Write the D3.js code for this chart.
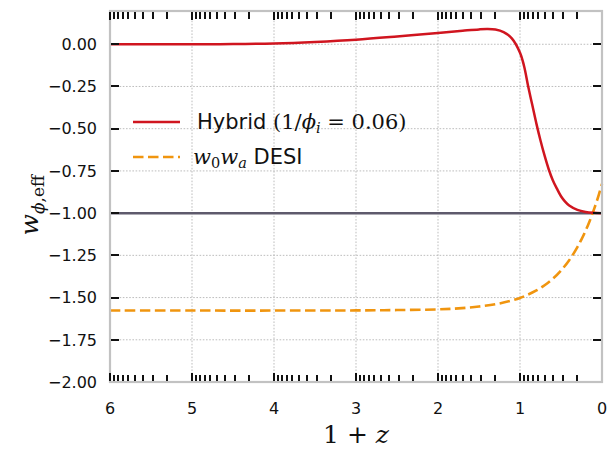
<!DOCTYPE html>
<html>
<head>
<meta charset="utf-8">
<script src="https://cdn.jsdelivr.net/npm/d3@7"></script>
<style>
  body { margin: 0; background: #fff; }
  text { font-family: "DejaVu Sans", sans-serif; }
  .math { font-family: "DejaVu Serif", serif; }
</style>
</head>
<body>
<div id="chart"></div>
<script>
// log10(1+z) sample positions and the curves
const hybridLogX = [6, 5, 4.5, 4, 3.5, 3, 2.5, 2, 1.7, 1.5, 1.4, 1.3, 1.2, 1.1, 1.0, 0.95, 0.9, 0.85, 0.8, 0.75, 0.7, 0.65, 0.6, 0.55, 0.5, 0.45, 0.4, 0.3, 0.2, 0.1, 0];
const hybridW = [0.0, 0.0, 0.001, 0.005, 0.014, 0.027, 0.046, 0.067, 0.08, 0.088, 0.09, 0.087, 0.072, 0.035, -0.05, -0.13, -0.25, -0.36, -0.47, -0.57, -0.66, -0.74, -0.805, -0.855, -0.9, -0.932, -0.955, -0.981, -0.993, -0.998, -1.0];

const desiLogX = [6, 5, 4, 3, 2.5, 2, 1.75, 1.5, 1.25, 1, 0.9, 0.8, 0.7, 0.6, 0.5, 0.4, 0.3, 0.25, 0.2, 0.15, 0.1, 0.05, 0];
const desiW = [-1.577, -1.577, -1.577, -1.576, -1.574, -1.570, -1.564, -1.553, -1.535, -1.502, -1.482, -1.458, -1.427, -1.389, -1.340, -1.279, -1.201, -1.155, -1.104, -1.046, -0.981, -0.909, -0.827];

const xTickExps = [6, 5, 4, 3, 2, 1, 0];
const yTicks = [0, -0.25, -0.5, -0.75, -1, -1.25, -1.5, -1.75, -2];
const refLine = -1;

const width = 609, height = 449;
const margin = { top: 11, right: 7, bottom: 67, left: 110 };
const iw = width - margin.left - margin.right;
const ih = height - margin.top - margin.bottom;

const svg = d3.select("#chart").append("svg")
  .attr("width", width).attr("height", height);
const g = svg.append("g").attr("transform", `translate(${margin.left},${margin.top})`);

const x = d3.scaleLog().domain([1e6, 1]).range([0, iw]);
const y = d3.scaleLinear().domain([-2, 0.197]).range([ih, 0]);

// grid
const grid = g.append("g");
xTickExps.slice(1, -1).forEach(k => {
  grid.append("line").attr("x1", x(10 ** k)).attr("x2", x(10 ** k))
    .attr("y1", 0).attr("y2", ih)
    .attr("stroke", "#b5b5b5").attr("stroke-width", 0.9).attr("stroke-dasharray", "1.6,1.6");
});
yTicks.slice(0, -1).forEach(v => {
  grid.append("line").attr("x1", 0).attr("x2", iw)
    .attr("y1", y(v)).attr("y2", y(v))
    .attr("stroke", "#b5b5b5").attr("stroke-width", 0.9).attr("stroke-dasharray", "1.6,1.6");
});

// reference w = -1
g.append("line").attr("x1", 0).attr("x2", iw)
  .attr("y1", y(refLine)).attr("y2", y(refLine))
  .attr("stroke", "#5e5a6c").attr("stroke-width", 2.5);

const line = d3.line()
  .x(d => x(10 ** d[0]))
  .y(d => y(d[1]))
  .curve(d3.curveCatmullRom.alpha(0.5));

g.append("path")
  .datum(desiLogX.map((u, i) => [u, desiW[i]]))
  .attr("d", line)
  .attr("fill", "none").attr("stroke", "#f0950f").attr("stroke-width", 2.6)
  .attr("stroke-dasharray", "10.5,4.5");

g.append("path")
  .datum(hybridLogX.map((u, i) => [u, hybridW[i]]))
  .attr("d", line)
  .attr("fill", "none").attr("stroke", "#d0151f").attr("stroke-width", 2.5);

// frame
g.append("rect").attr("x", 0).attr("y", 0).attr("width", iw).attr("height", ih)
  .attr("fill", "none").attr("stroke", "#c2c2c2").attr("stroke-width", 2.2);

// x ticks (log decades, inward, top and bottom)
const ticks = g.append("g").attr("stroke", "#111").attr("shape-rendering", "crispEdges");
const vtick = (px, len, w) => {
  const cx = Math.round(px);
  ticks.append("line").attr("x1", cx).attr("x2", cx).attr("y1", ih - 1).attr("y2", ih - len).attr("stroke-width", w);
  ticks.append("line").attr("x1", cx).attr("x2", cx).attr("y1", 1).attr("y2", len).attr("stroke-width", w);
};
xTickExps.forEach(k => {
  if (k > 0) {
    vtick(x(10 ** k), 9, 2);
    for (let m = 2; m <= 9; m++) vtick(x(m * 10 ** (k - 1)), 7.5, 2);
  }
});
// y ticks, inward on both sides
yTicks.forEach(v => {
  if (v === -2) return;
  const cy = Math.round(y(v));
  ticks.append("line").attr("x1", 1).attr("x2", 9).attr("y1", cy).attr("y2", cy).attr("stroke-width", 2);
  ticks.append("line").attr("x1", iw - 1).attr("x2", iw - 9).attr("y1", cy).attr("y2", cy).attr("stroke-width", 2);
});

// tick labels
const fmtY = d3.format(".2f");
yTicks.forEach(v => {
  g.append("text").attr("x", -13).attr("y", y(v)).attr("dy", "0.36em")
    .attr("text-anchor", "end").attr("font-size", 16).attr("fill", "#111")
    .text(fmtY(v).replace("-", "\u2212"));
});
xTickExps.forEach(k => {
  g.append("text").attr("x", x(10 ** k)).attr("y", ih + 32)
    .attr("text-anchor", "middle").attr("font-size", 16).attr("fill", "#111")
    .text(k);
});

// axis labels
const xl = svg.append("text").attr("class", "math")
  .attr("x", margin.left + iw / 2).attr("y", 443)
  .attr("text-anchor", "middle").attr("font-size", 25).attr("fill", "#111");
xl.append("tspan").text("1 + ");
xl.append("tspan").attr("font-style", "italic").text("z");

const yl = svg.append("text").attr("class", "math")
  .attr("transform", `translate(38,${margin.top + y(-1) - 8}) rotate(-90)`)
  .attr("text-anchor", "middle").attr("font-size", 25).attr("fill", "#111");
yl.append("tspan").attr("font-style", "italic").text("w");
yl.append("tspan").attr("font-style", "italic").attr("font-size", 17).attr("dy", 6).text("\u03d5");
yl.append("tspan").attr("font-size", 17).text(",eff");

// legend
const leg = g.append("g").attr("transform", "translate(23,0)");
leg.append("line").attr("x1", 0).attr("x2", 47).attr("y1", 111).attr("y2", 111)
  .attr("stroke", "#d0151f").attr("stroke-width", 2.5);
const t1 = leg.append("text").attr("x", 64).attr("y", 118).attr("font-size", 21).attr("fill", "#111");
t1.append("tspan").text("Hybrid ");
t1.append("tspan").attr("class", "math").text("(1/");
t1.append("tspan").attr("class", "math").attr("font-style", "italic").text("\u03d5");
t1.append("tspan").attr("class", "math").attr("font-style", "italic").attr("font-size", 14.5).attr("dy", 4).text("i");
t1.append("tspan").attr("class", "math").attr("dy", -4).text(" = 0.06)");

leg.append("line").attr("x1", 0).attr("x2", 47).attr("y1", 146).attr("y2", 146)
  .attr("stroke", "#f0950f").attr("stroke-width", 2.6).attr("stroke-dasharray", "10.5,4.5");
const t2 = leg.append("text").attr("x", 60).attr("y", 153).attr("font-size", 21).attr("fill", "#111");
t2.append("tspan").attr("class", "math").attr("font-style", "italic").text("w");
t2.append("tspan").attr("class", "math").attr("font-size", 14.5).attr("dy", 4).text("0");
t2.append("tspan").attr("class", "math").attr("font-style", "italic").attr("dy", -4).text("w");
t2.append("tspan").attr("class", "math").attr("font-style", "italic").attr("font-size", 14.5).attr("dy", 4).text("a");
t2.append("tspan").attr("dy", -4).text(" DESI");
</script>
</body>
</html>
